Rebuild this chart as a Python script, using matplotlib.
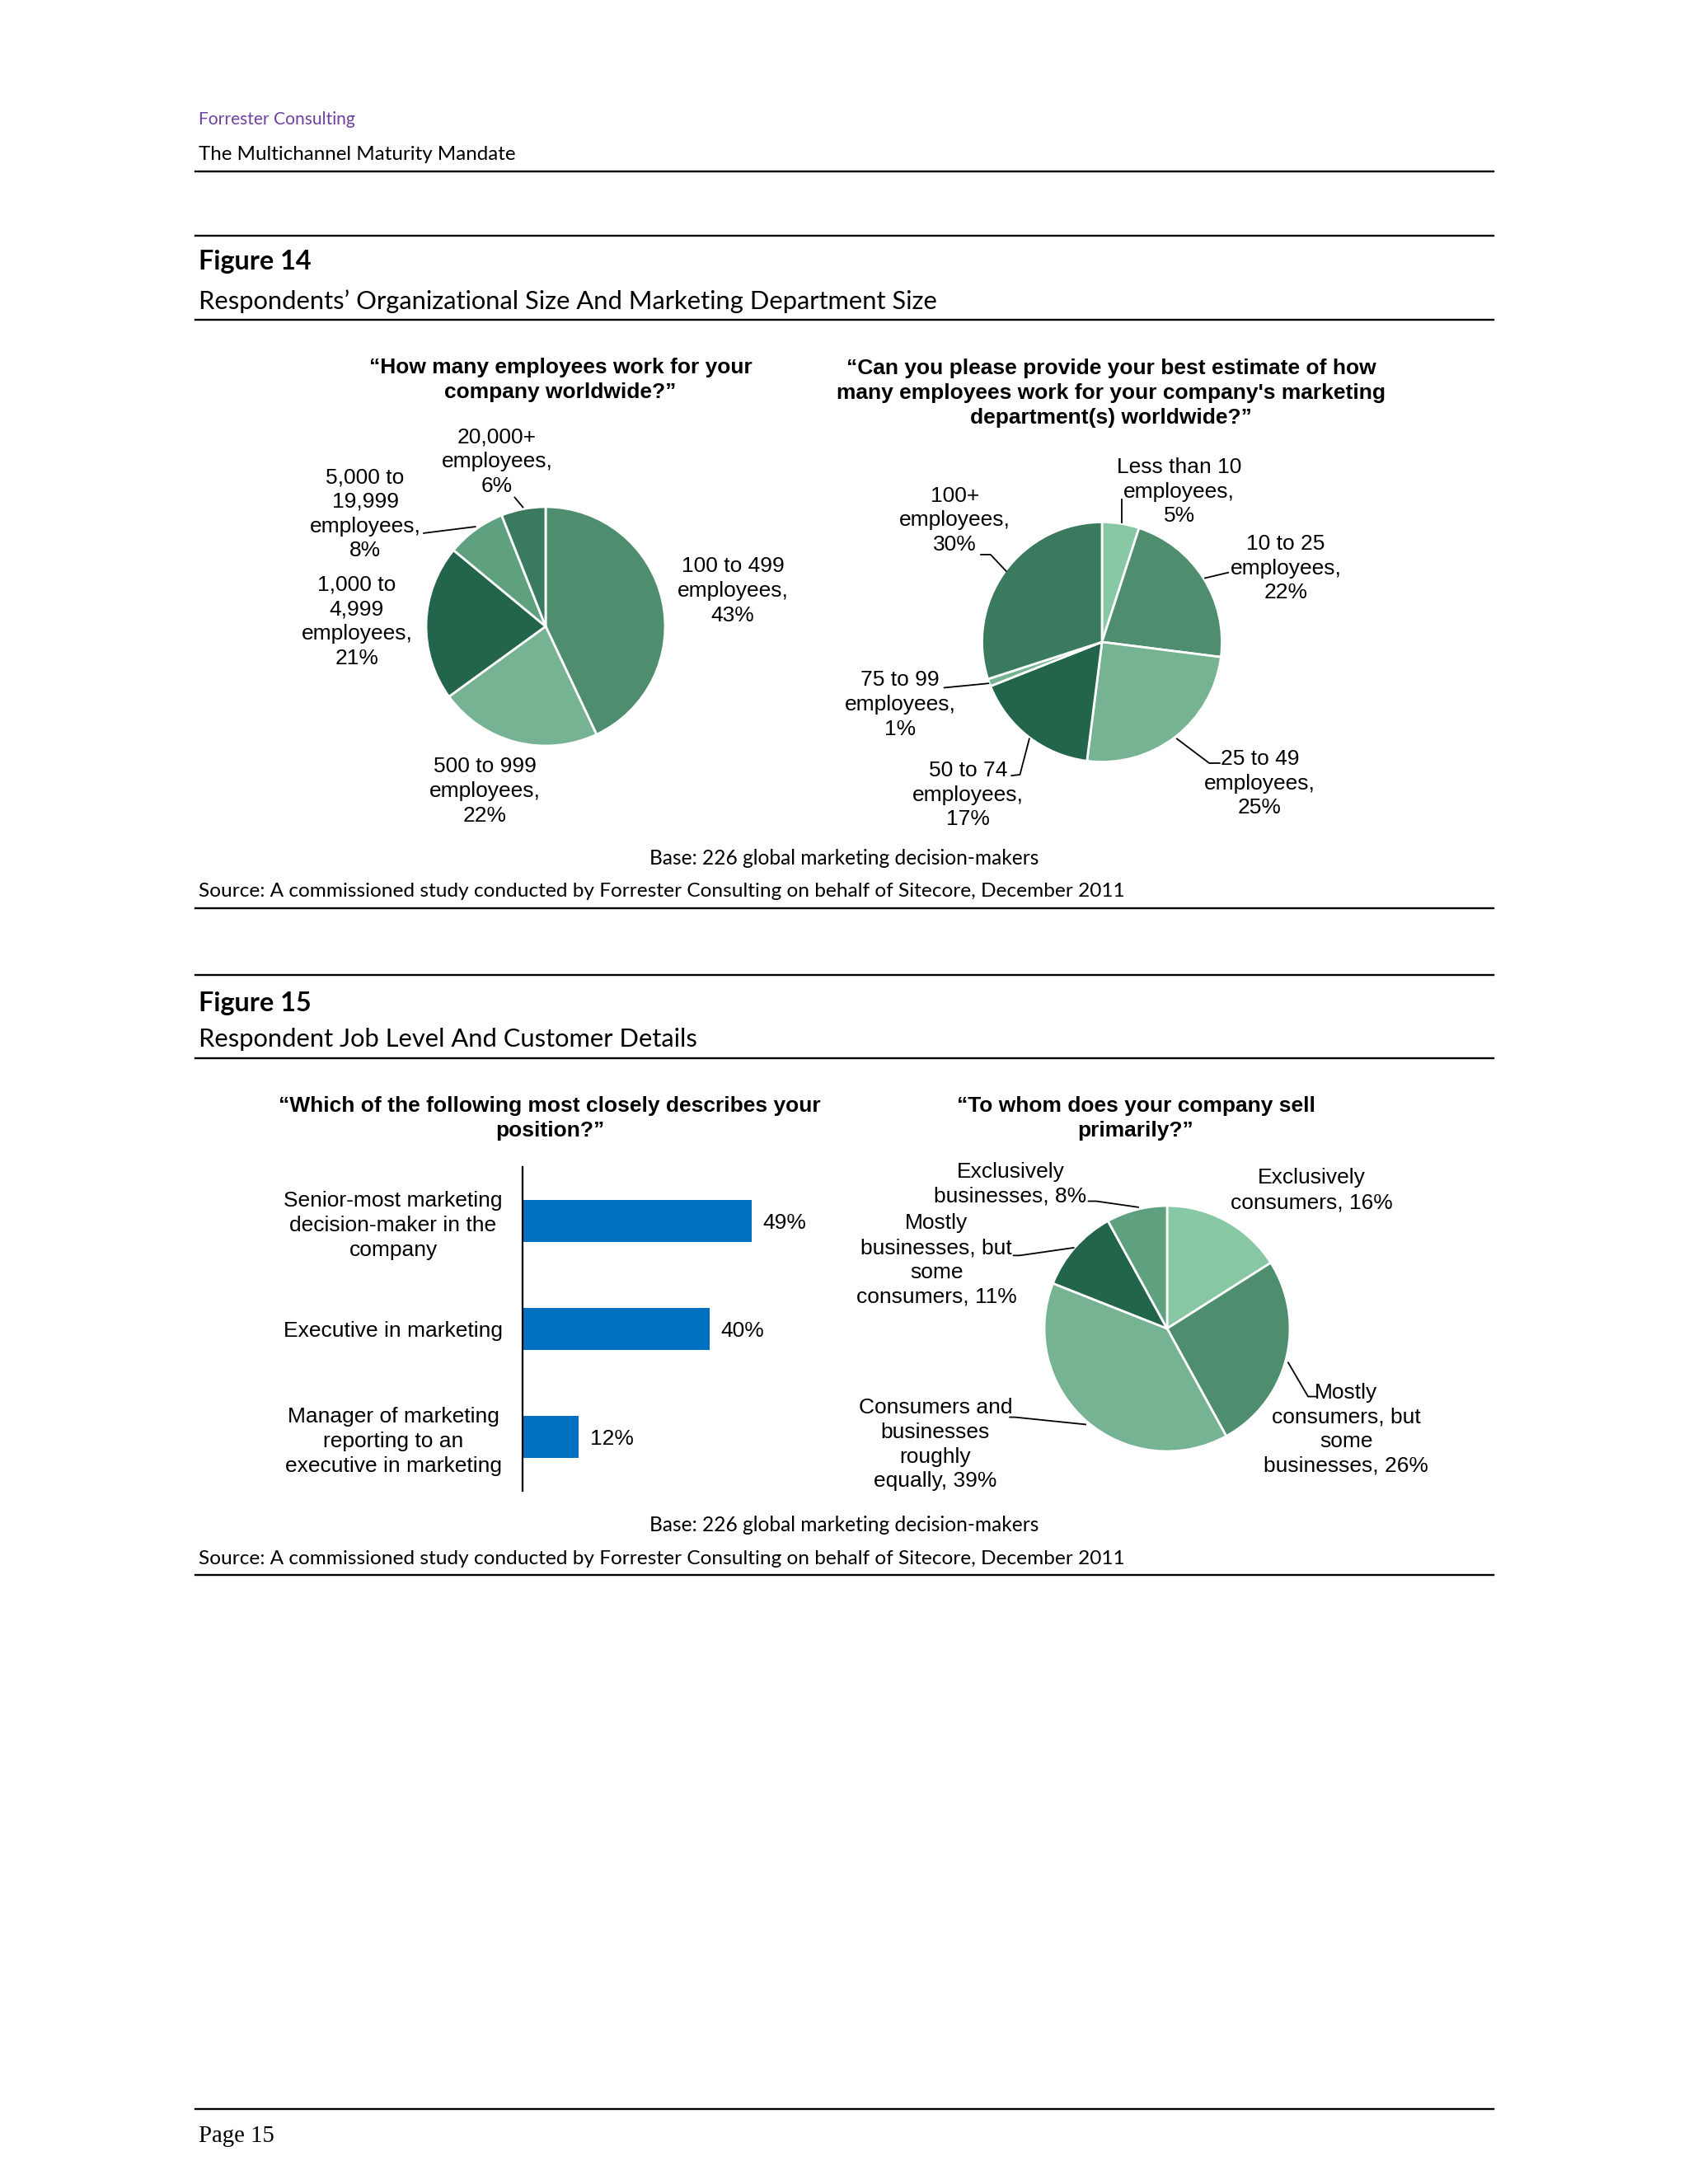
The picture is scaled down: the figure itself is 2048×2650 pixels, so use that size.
import matplotlib
matplotlib.use("Agg")
import matplotlib.pyplot as plt
from matplotlib.lines import Line2D

# ---------------- data ----------------
org_values = [43, 22, 21, 8, 6]
org_labels = ["100 to 499\nemployees,\n{}%", "500 to 999\nemployees,\n{}%",
              "1,000 to\n4,999\nemployees,\n{}%", "5,000 to\n19,999\nemployees,\n{}%",
              "20,000+\nemployees,\n{}%"]

mkt_values = [5, 22, 25, 17, 1, 30]
mkt_labels = ["Less than 10\nemployees,\n{}%", "10 to 25\nemployees,\n{}%",
              "25 to 49\nemployees,\n{}%", "50 to 74\nemployees,\n{}%",
              "75 to 99\nemployees,\n{}%", "100+\nemployees,\n{}%"]

pos_values = [49, 40, 12]
pos_labels = ["Senior-most marketing\ndecision-maker in the\ncompany",
              "Executive in marketing",
              "Manager of marketing\nreporting to an\nexecutive in marketing"]

sell_values = [16, 26, 39, 11, 8]
sell_labels = ["Exclusively\nconsumers, {}%", "Mostly\nconsumers, but\nsome\nbusinesses, {}%",
               "Consumers and\nbusinesses\nroughly\nequally, {}%",
               "Mostly\nbusinesses, but\nsome\nconsumers, {}%", "Exclusively\nbusinesses, {}%"]

# ---------------- styles / layout ----------------
W, H = 2048, 2650
DARK = "#23654B"
MDARK = "#3A7A5E"
MED = "#4E8E6E"
MLIGHT = "#5FA07F"
LIGHT = "#76B392"
LLIGHT = "#88C7A3"
org_colors = [MED, LIGHT, DARK, MLIGHT, MDARK]
mkt_colors = [LLIGHT, MED, LIGHT, DARK, LIGHT, MDARK]
sell_colors = [LLIGHT, MED, LIGHT, DARK, MLIGHT]

CH = ["Liberation Sans", "Arial", "DejaVu Sans"]
HD = ["Lato", "DejaVu Sans"]
FS = 19
LS = 1.3

fig = plt.figure(figsize=(W / 100, H / 100), dpi=100)
fig.patch.set_facecolor("white")
renderer = fig.canvas.get_renderer()


def fx(x):
    return x / W


def fy(y):
    return 1 - y / H


def fit_text(x, y, s, width, family, weight="normal", color="black", ha="left"):
    t = fig.text(fx(x), fy(y), s, fontsize=20, family=family, weight=weight,
                 color=color, ha=ha, va="center")
    w = t.get_window_extent(renderer).width
    t.set_fontsize(20 * width / w)
    return t


def hline(y, x0=237, x1=1812, lw=1.7):
    fig.add_artist(Line2D([fx(x0), fx(x1)], [fy(y), fy(y)], color="black", lw=lw,
                          transform=fig.transFigure))


# ---------------- page header / frame ----------------
fit_text(241, 145, "Forrester Consulting", 190, HD, color="#7040A0")
fit_text(241, 188, "The Multichannel Maturity Mandate", 386, HD)
hline(208)
hline(286)
fit_text(241, 318, "Figure 14", 137, HD, weight="bold")
fit_text(241, 366, "Respondents\u2019 Organizational Size And Marketing Department Size", 899, HD)
hline(388)

fit_text(1024, 1041, "Base: 226 global marketing decision-makers", 473, HD, ha="center")
fit_text(241, 1082, "Source: A commissioned study conducted by Forrester Consulting on behalf of Sitecore, December 2011", 1125, HD)
hline(1102)
hline(1183)
fit_text(241, 1217, "Figure 15", 137, HD, weight="bold")
fit_text(241, 1261, "Respondent Job Level And Customer Details", 605, HD)
hline(1284)

fit_text(1024, 1851, "Base: 226 global marketing decision-makers", 473, HD, ha="center")
fit_text(241, 1891, "Source: A commissioned study conducted by Forrester Consulting on behalf of Sitecore, December 2011", 1125, HD)
hline(1911)

hline(2559)
fit_text(241, 2592, "Page 15", 92, ["Liberation Serif", "DejaVu Serif"])


# ---------------- chart titles ----------------
def title(x, y, s):
    fig.text(fx(x), fy(y), s, fontsize=FS, family=CH, weight="bold", ha="center",
             va="center", linespacing=LS, multialignment="center")


title(680, 461, "\u201cHow many employees work for your\ncompany worldwide?\u201d")
title(1348, 477, "\u201cCan you please provide your best estimate of how\nmany employees work for your company's marketing\ndepartment(s) worldwide?\u201d")
title(667, 1357, "\u201cWhich of the following most closely describes your\nposition?\u201d")
title(1378, 1357, "\u201cTo whom does your company sell\nprimarily?\u201d")


# ---------------- pies ----------------
def pie_axes(cx, cy, r, values, colors):
    ax = fig.add_axes([(cx - r) / W, (H - cy - r) / H, 2 * r / W, 2 * r / H])
    ax.pie(values, colors=colors, startangle=90, counterclock=False, radius=1,
           wedgeprops=dict(edgecolor="white", linewidth=2.0))
    ax.set_xlim(-1, 1)
    ax.set_ylim(-1, 1)
    ax.set_aspect("equal")
    ax.axis("off")
    return ax


def labels(ax, texts, values, positions, leaders):
    for t, v, p in zip(texts, values, positions):
        ax.text(p[0], p[1], t.format(v), fontsize=FS, family=CH, ha="center", va="center",
                linespacing=LS, multialignment="center", clip_on=False)
    for pts in leaders:
        xs = [q[0] for q in pts]
        ys = [q[1] for q in pts]
        ax.plot(xs, ys, color="black", lw=1.3, clip_on=False)


# Pie 1
ax1 = pie_axes(662, 760, 145, org_values, org_colors)
pos1 = [(1.566, 0.297), (-0.51, -1.38), (-1.58, 0.04), (-1.51, 0.94), (-0.407, 1.38)]
lead1 = [[(-0.589, 0.834), (-1.02, 0.78)],
         [(-0.19, 0.997), (-0.259, 1.079)]]
labels(ax1, org_labels, org_values, pos1, lead1)

# Pie 2
ax2 = pie_axes(1337, 779, 145.5, mkt_values, mkt_colors)
pos2 = [(0.643, 1.253), (1.533, 0.614), (1.315, -1.18), (-1.115, -1.275),
        (-1.683, -0.522), (-1.227, 1.014)]
lead2 = [[(0.165, 0.995), (0.165, 1.19)],
         [(0.859, 0.533), (1.052, 0.579)],
         [(0.625, -0.807), (0.894, -1.01), (0.981, -1.01)],
         [(-0.606, -0.807), (-0.684, -1.106), (-0.754, -1.114)],
         [(-0.946, -0.345), (-1.315, -0.381)],
         [(-0.8, 0.592), (-0.929, 0.729), (-1.01, 0.729)]]
labels(ax2, mkt_labels, mkt_values, pos2, lead2)

# Pie 4
ax4 = pie_axes(1416, 1612, 149, sell_values, sell_colors)
pos4 = [(1.174, 1.126), (1.458, -0.821), (-1.887, -0.944), (-1.877, 0.558), (-1.275, 1.177)]
lead4 = [[(-0.235, 0.988), (-0.576, 1.037), (-0.64, 1.037)],
         [(-0.761, 0.658), (-1.2, 0.595), (-1.25, 0.595)],
         [(-0.664, -0.781), (-1.24, -0.722), (-1.28, -0.722)],
         [(0.986, -0.277), (1.148, -0.554), (1.213, -0.554)]]
labels(ax4, sell_labels, sell_values, pos4, lead4)

# ---------------- bar chart ----------------
bax = fig.add_axes([634 / W, 1 - 1809 / H, 340 / W, (1809 - 1416) / H])
ypos = list(range(len(pos_values)))
bax.barh(ypos, pos_values, height=0.39, color="#0070C0")
bax.set_xlim(0, 60)
bax.set_ylim(len(pos_values) - 0.5, -0.5)
for s in ["top", "right", "bottom"]:
    bax.spines[s].set_visible(False)
bax.spines["left"].set_linewidth(1.6)
bax.spines["left"].set_color("black")
bax.set_xticks([])
bax.set_yticks(ypos)
bax.set_yticklabels(pos_labels, ha="center", fontsize=FS, family=CH,
                    linespacing=LS, multialignment="center")
bax.tick_params(axis="y", length=0, pad=113)
bax.set_facecolor("none")
for i, v in enumerate(pos_values):
    bax.annotate(f"{v}%", xy=(v, i), xytext=(10, -2), textcoords="offset points",
                 va="center", ha="left", fontsize=FS, family=CH)

fig.savefig("out.png", dpi=100, facecolor="white")
